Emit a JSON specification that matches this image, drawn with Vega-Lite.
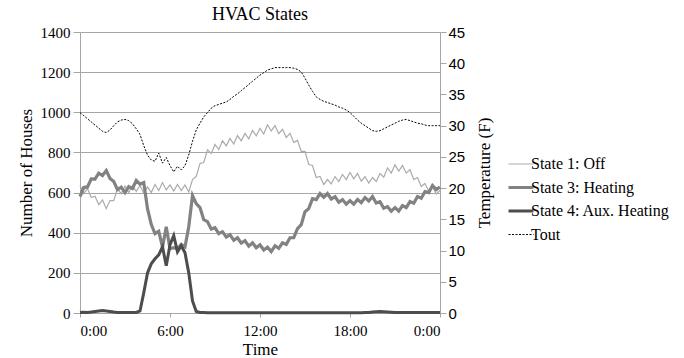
{
  "$schema": "https://vega.github.io/schema/vega-lite/v6.json",
  "width": 360,
  "height": 281,
  "autosize": "none",
  "padding": {"left": 80, "top": 32, "right": 244, "bottom": 45},
  "background": "white",
  "title": {"text": "HVAC States", "font": "Liberation Serif", "fontSize": 18, "fontWeight": "normal", "color": "#000000", "anchor": "middle", "offset": 1},
  "config": {
    "view": {"stroke": null},
    "axis": {"labelFont": "Liberation Serif", "labelFontSize": 15, "labelColor": "#000000", "titleFont": "Liberation Serif", "titleFontSize": 17, "titleFontWeight": "normal", "titleColor": "#000000", "domainColor": "#a6a6a6", "tickColor": "#a6a6a6", "gridColor": "#a6a6a6"}
  },
  "data": {"values": [
    {"h": 0, "off": 635, "heat": 580, "aux": 2, "tout": 32.1},
    {"h": 0.25, "off": 595, "heat": 625, "aux": 4, "tout": 31.6},
    {"h": 0.5, "off": 620, "heat": 628, "aux": 3, "tout": 31.1},
    {"h": 0.75, "off": 575, "heat": 668, "aux": 5, "tout": 30.6},
    {"h": 1, "off": 582, "heat": 667, "aux": 8, "tout": 30.1},
    {"h": 1.25, "off": 540, "heat": 697, "aux": 10, "tout": 29.6},
    {"h": 1.5, "off": 563, "heat": 685, "aux": 12, "tout": 29.1},
    {"h": 1.75, "off": 520, "heat": 710, "aux": 10, "tout": 28.9},
    {"h": 2, "off": 560, "heat": 670, "aux": 8, "tout": 29.3},
    {"h": 2.25, "off": 560, "heat": 655, "aux": 5, "tout": 30.0},
    {"h": 2.5, "off": 620, "heat": 615, "aux": 3, "tout": 30.6},
    {"h": 2.75, "off": 594, "heat": 627, "aux": 2, "tout": 30.9},
    {"h": 3, "off": 633, "heat": 600, "aux": 2, "tout": 31.0},
    {"h": 3.25, "off": 600, "heat": 630, "aux": 2, "tout": 30.8},
    {"h": 3.5, "off": 635, "heat": 620, "aux": 2, "tout": 30.3},
    {"h": 3.75, "off": 606, "heat": 660, "aux": 3, "tout": 29.5},
    {"h": 4, "off": 635, "heat": 642, "aux": 10, "tout": 28.6},
    {"h": 4.25, "off": 597, "heat": 650, "aux": 100, "tout": 26.8},
    {"h": 4.5, "off": 628, "heat": 520, "aux": 200, "tout": 25.3},
    {"h": 4.75, "off": 600, "heat": 442, "aux": 245, "tout": 24.5},
    {"h": 5, "off": 640, "heat": 395, "aux": 270, "tout": 24.3},
    {"h": 5.25, "off": 610, "heat": 407, "aux": 290, "tout": 25.6},
    {"h": 5.5, "off": 650, "heat": 328, "aux": 330, "tout": 24.0},
    {"h": 5.75, "off": 613, "heat": 430, "aux": 235, "tout": 24.9},
    {"h": 6, "off": 638, "heat": 320, "aux": 340, "tout": 23.6},
    {"h": 6.25, "off": 607, "heat": 325, "aux": 385, "tout": 22.6},
    {"h": 6.5, "off": 640, "heat": 320, "aux": 305, "tout": 23.5},
    {"h": 6.75, "off": 610, "heat": 342, "aux": 335, "tout": 22.9},
    {"h": 7, "off": 638, "heat": 330, "aux": 300, "tout": 23.6},
    {"h": 7.25, "off": 603, "heat": 430, "aux": 200, "tout": 25.3},
    {"h": 7.5, "off": 665, "heat": 585, "aux": 60, "tout": 27.5},
    {"h": 7.75, "off": 680, "heat": 545, "aux": 8, "tout": 29.3},
    {"h": 8, "off": 745, "heat": 525, "aux": 3, "tout": 30.4},
    {"h": 8.25, "off": 750, "heat": 465, "aux": 2, "tout": 31.4},
    {"h": 8.5, "off": 813, "heat": 455, "aux": 1, "tout": 32.1},
    {"h": 8.75, "off": 795, "heat": 418, "aux": 1, "tout": 32.8},
    {"h": 9, "off": 840, "heat": 425, "aux": 1, "tout": 33.2},
    {"h": 9.25, "off": 814, "heat": 395, "aux": 1, "tout": 33.4},
    {"h": 9.5, "off": 858, "heat": 405, "aux": 1, "tout": 33.6},
    {"h": 9.75, "off": 833, "heat": 378, "aux": 1, "tout": 33.8},
    {"h": 10, "off": 870, "heat": 390, "aux": 1, "tout": 34.2},
    {"h": 10.25, "off": 842, "heat": 362, "aux": 1, "tout": 34.7},
    {"h": 10.5, "off": 884, "heat": 375, "aux": 1, "tout": 35.1},
    {"h": 10.75, "off": 858, "heat": 348, "aux": 1, "tout": 35.6},
    {"h": 11, "off": 895, "heat": 360, "aux": 1, "tout": 36.1},
    {"h": 11.25, "off": 868, "heat": 333, "aux": 1, "tout": 36.6},
    {"h": 11.5, "off": 910, "heat": 350, "aux": 1, "tout": 37.1},
    {"h": 11.75, "off": 883, "heat": 325, "aux": 1, "tout": 37.6},
    {"h": 12, "off": 920, "heat": 340, "aux": 1, "tout": 38.1},
    {"h": 12.25, "off": 892, "heat": 314, "aux": 1, "tout": 38.5},
    {"h": 12.5, "off": 938, "heat": 328, "aux": 1, "tout": 38.9},
    {"h": 12.75, "off": 907, "heat": 306, "aux": 1, "tout": 39.1},
    {"h": 13, "off": 933, "heat": 335, "aux": 1, "tout": 39.3},
    {"h": 13.25, "off": 893, "heat": 322, "aux": 1, "tout": 39.3},
    {"h": 13.5, "off": 915, "heat": 350, "aux": 1, "tout": 39.3},
    {"h": 13.75, "off": 875, "heat": 342, "aux": 1, "tout": 39.3},
    {"h": 14, "off": 895, "heat": 375, "aux": 1, "tout": 39.3},
    {"h": 14.25, "off": 850, "heat": 375, "aux": 1, "tout": 39.2},
    {"h": 14.5, "off": 860, "heat": 420, "aux": 1, "tout": 39.0},
    {"h": 14.75, "off": 805, "heat": 440, "aux": 1, "tout": 38.6},
    {"h": 15, "off": 805, "heat": 505, "aux": 1, "tout": 37.6},
    {"h": 15.25, "off": 740, "heat": 520, "aux": 1, "tout": 36.5},
    {"h": 15.5, "off": 735, "heat": 570, "aux": 1, "tout": 35.5},
    {"h": 15.75, "off": 675, "heat": 565, "aux": 1, "tout": 34.6},
    {"h": 16, "off": 680, "heat": 595, "aux": 1, "tout": 34.2},
    {"h": 16.25, "off": 640, "heat": 577, "aux": 1, "tout": 33.9},
    {"h": 16.5, "off": 665, "heat": 595, "aux": 1, "tout": 33.7},
    {"h": 16.75, "off": 643, "heat": 568, "aux": 1, "tout": 33.5},
    {"h": 17, "off": 680, "heat": 580, "aux": 1, "tout": 33.3},
    {"h": 17.25, "off": 655, "heat": 552, "aux": 1, "tout": 33.0},
    {"h": 17.5, "off": 690, "heat": 565, "aux": 1, "tout": 32.8},
    {"h": 17.75, "off": 665, "heat": 542, "aux": 1, "tout": 32.5},
    {"h": 18, "off": 700, "heat": 560, "aux": 1, "tout": 32.1},
    {"h": 18.25, "off": 668, "heat": 542, "aux": 1, "tout": 31.5},
    {"h": 18.5, "off": 695, "heat": 565, "aux": 1, "tout": 30.9},
    {"h": 18.75, "off": 657, "heat": 550, "aux": 1, "tout": 30.4},
    {"h": 19, "off": 680, "heat": 575, "aux": 2, "tout": 30.0},
    {"h": 19.25, "off": 647, "heat": 558, "aux": 3, "tout": 29.6},
    {"h": 19.5, "off": 675, "heat": 580, "aux": 5, "tout": 29.2},
    {"h": 19.75, "off": 655, "heat": 548, "aux": 6, "tout": 29.1},
    {"h": 20, "off": 695, "heat": 555, "aux": 7, "tout": 29.2},
    {"h": 20.25, "off": 677, "heat": 522, "aux": 6, "tout": 29.5},
    {"h": 20.5, "off": 723, "heat": 530, "aux": 5, "tout": 29.8},
    {"h": 20.75, "off": 697, "heat": 507, "aux": 4, "tout": 30.1},
    {"h": 21, "off": 738, "heat": 525, "aux": 3, "tout": 30.4},
    {"h": 21.25, "off": 707, "heat": 508, "aux": 2, "tout": 30.7},
    {"h": 21.5, "off": 735, "heat": 535, "aux": 2, "tout": 30.9},
    {"h": 21.75, "off": 697, "heat": 525, "aux": 2, "tout": 31.0},
    {"h": 22, "off": 715, "heat": 555, "aux": 2, "tout": 30.8},
    {"h": 22.25, "off": 665, "heat": 547, "aux": 2, "tout": 30.6},
    {"h": 22.5, "off": 675, "heat": 580, "aux": 2, "tout": 30.4},
    {"h": 22.75, "off": 630, "heat": 572, "aux": 2, "tout": 30.3},
    {"h": 23, "off": 645, "heat": 605, "aux": 2, "tout": 30.1},
    {"h": 23.25, "off": 607, "heat": 600, "aux": 2, "tout": 30.0},
    {"h": 23.5, "off": 630, "heat": 635, "aux": 2, "tout": 30.0},
    {"h": 23.75, "off": 593, "heat": 615, "aux": 2, "tout": 30.0},
    {"h": 24, "off": 610, "heat": 628, "aux": 2, "tout": 30.0}
  ]},
  "layer": [
    {
      "transform": [{"fold": ["off", "heat", "aux"], "as": ["key", "value"]}],
      "mark": {"type": "line"},
      "encoding": {
        "x": {"field": "h", "type": "quantitative", "scale": {"domain": [0, 24], "nice": false},
          "axis": {"values": [0, 6, 12, 18, 24], "labelExpr": "(datum.value % 24) + ':00'", "title": "Time", "grid": false, "domain": false, "ticks": true, "tickSize": 4, "labelPadding": 6, "titlePadding": 3}},
        "y": {"field": "value", "type": "quantitative", "scale": {"domain": [0, 1400], "nice": false},
          "axis": {"values": [0, 200, 400, 600, 800, 1000, 1200, 1400], "format": "d", "title": "Number of Houses", "grid": true, "tickSize": 7, "labelPadding": 3, "titlePadding": 5}},
        "color": {"field": "key", "type": "nominal",
          "scale": {"domain": ["off", "heat", "aux", "tout"], "range": ["#ababab", "#828282", "#4d4d4d", "#000000"]},
          "legend": {"orient": "none", "legendX": 433, "legendY": 124, "title": null, "symbolType": "stroke", "symbolSize": 625, "labelFont": "Liberation Serif", "labelFontSize": 16, "labelColor": "#000000", "labelOffset": 2, "rowPadding": 7.5,
            "labelExpr": "datum.label == 'off' ? 'State 1: Off' : datum.label == 'heat' ? 'State 3: Heating' : datum.label == 'aux' ? 'State 4: Aux. Heating' : 'Tout'",
            "encode": {"symbols": {"update": {
              "strokeWidth": {"signal": "datum.value == 'off' ? 1.2 : datum.value == 'tout' ? 1 : 3"},
              "strokeDash": {"signal": "datum.value == 'tout' ? [2, 1.5] : [1, 0]"}
            }}}}},
        "strokeWidth": {"field": "key", "type": "nominal", "scale": {"type": "ordinal", "domain": ["off", "heat", "aux"], "range": [1.2, 3.2, 3]}, "legend": null}
      }
    },
    {
      "transform": [{"fold": ["tout"], "as": ["key", "temp"]}],
      "mark": {"type": "line", "strokeWidth": 1, "strokeDash": [2, 1.5]},
      "encoding": {
        "x": {"field": "h", "type": "quantitative"},
        "y": {"field": "temp", "type": "quantitative", "scale": {"domain": [0, 45], "nice": false},
          "axis": {"orient": "right", "values": [0, 5, 10, 15, 20, 25, 30, 35, 40, 45], "title": "Temperature (F)", "grid": false, "tickSize": 6, "labelPadding": 2, "labelFont": "Liberation Sans", "labelFontSize": 15, "titleAngle": 270, "titleBaseline": "top", "titlePadding": 12}},
        "color": {"field": "key", "type": "nominal"}
      }
    }
  ],
  "resolve": {"scale": {"y": "independent"}}
}
